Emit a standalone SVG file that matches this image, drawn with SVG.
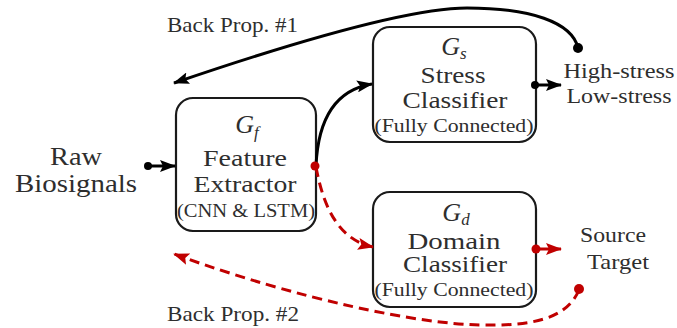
<svg xmlns="http://www.w3.org/2000/svg" width="677" height="328" viewBox="0 0 677 328" font-family="'Liberation Serif', 'Times New Roman', serif">
  <style>
    text { fill: #2e2e2e; }
    .lbl { font-size: 23px; text-anchor: middle; }
    .big { font-size: 26px; text-anchor: middle; }
    .sm { font-size: 19px; text-anchor: middle; }
    .side { font-size: 21px; text-anchor: middle; }
    .bp { font-size: 21px; }
    .math { font-size: 26px; font-style: italic; text-anchor: middle; }
    .box { fill: #ffffff; stroke: #1a1a1a; stroke-width: 2.2; }
    .fwd { fill: none; stroke: #000000; stroke-width: 3; }
    .red { fill: none; stroke: #c00000; stroke-width: 3; stroke-dasharray: 10 6; }
    .redsolid { fill: none; stroke: #c00000; stroke-width: 3; }
  </style>
  <defs>
    <marker id="arrowBlack" markerUnits="userSpaceOnUse" markerWidth="16" markerHeight="12" refX="15" refY="6" orient="auto">
      <path d="M0,0 L16,6 L0,12 L3,6 Z" fill="#000000"/>
    </marker>
    <marker id="arrowRed" markerUnits="userSpaceOnUse" markerWidth="16" markerHeight="12" refX="15" refY="6" orient="auto">
      <path d="M0,0 L16,6 L0,12 L3,6 Z" fill="#c00000"/>
    </marker>
  </defs>

  <rect width="677" height="328" fill="#ffffff"/>

  <!-- input label -->
  <g id="raw">
    <text class="big" x="76" y="165" textLength="52" lengthAdjust="spacingAndGlyphs">Raw</text>
    <text class="big" x="76" y="192" textLength="122" lengthAdjust="spacingAndGlyphs">Biosignals</text>
  </g>

  <!-- feature extractor -->
  <g id="gf">
    <rect class="box" x="176" y="98" width="140" height="133" rx="17"/>
    <text class="math" x="247" y="133">G<tspan font-size="17" dy="5">f</tspan></text>
    <text class="lbl" x="245" y="166" textLength="84" lengthAdjust="spacingAndGlyphs">Feature</text>
    <text class="lbl" x="245" y="192" textLength="103" lengthAdjust="spacingAndGlyphs">Extractor</text>
    <text class="sm" x="246" y="217" textLength="138" lengthAdjust="spacingAndGlyphs">(CNN &amp; LSTM)</text>
  </g>

  <!-- stress classifier -->
  <g id="gs">
    <rect class="box" x="373" y="27" width="163" height="115" rx="17"/>
    <text class="math" x="454" y="55">G<tspan font-size="17" dy="4">s</tspan></text>
    <text class="lbl" x="453" y="83" textLength="65" lengthAdjust="spacingAndGlyphs">Stress</text>
    <text class="lbl" x="455" y="108" textLength="105" lengthAdjust="spacingAndGlyphs">Classifier</text>
    <text class="sm" x="454" y="132" textLength="159" lengthAdjust="spacingAndGlyphs">(Fully Connected)</text>
  </g>

  <!-- domain classifier -->
  <g id="gd">
    <rect class="box" x="373" y="192" width="163" height="115" rx="17"/>
    <text class="math" x="456" y="221">G<tspan font-size="17" dy="4">d</tspan></text>
    <text class="lbl" x="454" y="249" textLength="93" lengthAdjust="spacingAndGlyphs">Domain</text>
    <text class="lbl" x="455" y="272" textLength="104" lengthAdjust="spacingAndGlyphs">Classifier</text>
    <text class="sm" x="454" y="296" textLength="159" lengthAdjust="spacingAndGlyphs">(Fully Connected)</text>
  </g>

  <!-- outputs -->
  <g id="stress-out">
    <text class="side" x="619" y="78" textLength="111" lengthAdjust="spacingAndGlyphs">High-stress</text>
    <text class="side" x="619" y="103" textLength="105" lengthAdjust="spacingAndGlyphs">Low-stress</text>
  </g>
  <g id="domain-out">
    <text class="side" x="613" y="242" font-size="19" textLength="66" lengthAdjust="spacingAndGlyphs">Source</text>
    <text class="side" x="618" y="269" font-size="19" textLength="62" lengthAdjust="spacingAndGlyphs">Target</text>
  </g>

  <!-- back-propagation labels -->
  <g id="bp-labels">
    <text class="bp" x="167" y="32" textLength="131" lengthAdjust="spacingAndGlyphs">Back Prop. #1</text>
    <text class="bp" x="167" y="321" textLength="132" lengthAdjust="spacingAndGlyphs">Back Prop. #2</text>
  </g>

  <!-- connectors -->
  <g id="connectors">
    <!-- forward path -->
    <path class="fwd" d="M148,166 L175,166" marker-end="url(#arrowBlack)"/>
    <circle cx="148" cy="166" r="4" fill="#000000"/>
    <path class="fwd" d="M316,166 C318,120 335,90 372,84" marker-end="url(#arrowBlack)"/>
    <path class="fwd" d="M535,85 L561,85" marker-end="url(#arrowBlack)"/>
    <circle cx="535" cy="85" r="4" fill="#000000"/>

    <!-- back propagation #1 -->
    <path class="fwd" d="M578,48 C572,22 530,8 467,8 C410,8 300,40 174,83" marker-end="url(#arrowBlack)"/>
    <circle cx="578" cy="48" r="5" fill="#000000"/>

    <!-- domain path -->
    <path class="red" d="M316,167 C324,210 340,240 373,247" marker-end="url(#arrowRed)"/>
    <circle cx="315" cy="166" r="4.5" fill="#c00000"/>
    <path class="redsolid" d="M536,249 L561,249" marker-end="url(#arrowRed)"/>
    <circle cx="536" cy="249" r="4.5" fill="#c00000"/>

    <!-- back propagation #2 -->
    <path class="red" d="M579,290 C566,320 530,326 480,325 C420,324 300,300 174,254" marker-end="url(#arrowRed)"/>
    <circle cx="579" cy="289" r="5" fill="#c00000"/>
  </g>
</svg>
